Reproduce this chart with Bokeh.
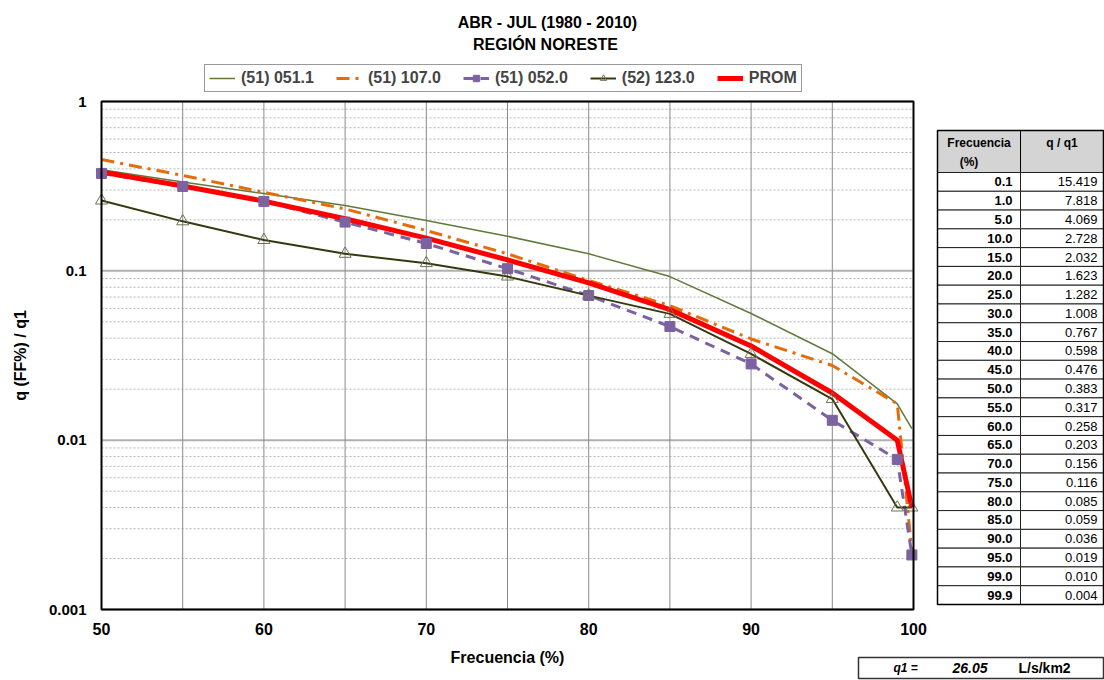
import numpy as np
from bokeh.plotting import figure
from bokeh.models import Range1d, Legend, LegendItem, ColumnDataSource, LinearScale
from bokeh.embed import file_html
from bokeh.resources import INLINE
from bokeh.core.properties import value

FONT = "Liberation Sans"

# ---------------- data ----------------
freq = [50, 55, 60, 65, 70, 75, 80, 85, 90, 95, 99, 99.9]
s_0511 = [0.395, 0.335, 0.286, 0.243, 0.198, 0.160, 0.126, 0.0925, 0.056, 0.0324, 0.0164, 0.0117]
s_1070 = [0.454, 0.366, 0.291, 0.232, 0.173, 0.126, 0.0877, 0.0623, 0.0396, 0.0276, 0.0164, 0.0022]
s_0520 = [0.376, 0.315, 0.257, 0.194, 0.145, 0.103, 0.0715, 0.0469, 0.0282, 0.0131, 0.0077, 0.0021]
s_1230 = [0.260, 0.196, 0.152, 0.126, 0.111, 0.0925, 0.0714, 0.0557, 0.0323, 0.0175, 0.0040, 0.0040]
prom = [0.383, 0.317, 0.258, 0.203, 0.156, 0.116, 0.085, 0.059, 0.036, 0.019, 0.010, 0.004]

series_labels = ["(51) 051.1", "(51) 107.0", "(51) 052.0", "(52) 123.0", "PROM"]
title_lines = ["ABR - JUL (1980 - 2010)", "REGIÓN NORESTE"]
x_title = "Frecuencia (%)"
y_title = "q (FF%) / q1"

table_header = ["Frecuencia", "(%)", "q / q1"]
table_freq = [0.1, 1.0, 5.0, 10.0, 15.0, 20.0, 25.0, 30.0, 35.0, 40.0, 45.0, 50.0,
              55.0, 60.0, 65.0, 70.0, 75.0, 80.0, 85.0, 90.0, 95.0, 99.0, 99.9]
table_q = [15.419, 7.818, 4.069, 2.728, 2.032, 1.623, 1.282, 1.008, 0.767, 0.598, 0.476,
           0.383, 0.317, 0.258, 0.203, 0.156, 0.116, 0.085, 0.059, 0.036, 0.019, 0.010, 0.004]
q1_label = "q1 ="
q1_value = 26.05
q1_units = "L/s/km2"

y_ticks = [0.001, 0.01, 0.1, 1]
y_tick_labels = ["0.001", "0.01", "0.1", "1"]
y_minor = [k * 10.0 ** e for e in (-3, -2, -1) for k in range(2, 10)]
x_ticks = [50, 60, 70, 80, 90, 100]
x_tick_labels = ["50", "60", "70", "80", "90", "100"]
x_grid = [50, 55, 60, 65, 70, 75, 80, 85, 90, 95, 100]

# ---------------- geometry (pixels inside the canvas) ----------------
W, H = 1104, 680
C_LEFT, C_RIGHT = 101, 913     # x of 50 and 100
C_TOP, C_BOT = 101, 609        # y of 1 and 0.001
ppx = (C_RIGHT - C_LEFT) / (x_ticks[-1] - x_ticks[0])
ppd = (C_BOT - C_TOP) / np.log10(y_ticks[-1] / y_ticks[0])
x_start = x_ticks[0] - C_LEFT / ppx
x_end = x_ticks[-1] + (W - C_RIGHT) / ppx
y_end = y_ticks[-1] * 10 ** (C_TOP / ppd)
y_start = y_ticks[0] / 10 ** ((H - C_BOT) / ppd)

p = figure(width=W, height=H, x_range=Range1d(x_start, x_end), y_range=Range1d(y_start, y_end),
           y_axis_type="log", x_axis_location=None, y_axis_location=None,
           output_backend="svg", toolbar_location=None, min_border=0)
p.title.visible = False
p.extra_x_ranges = {"px": Range1d(0, W)}
p.extra_y_ranges = {"py": Range1d(H, 0)}
p.extra_x_scales = {"px": LinearScale()}
p.extra_y_scales = {"py": LinearScale()}
p.grid.visible = False
p.background_fill_color = "white"
p.border_fill_color = "white"
p.outline_line_color = None

x0, x1 = x_ticks[0], x_ticks[-1]
y0, y1 = y_ticks[0], y_ticks[-1]

# ---------------- grid ----------------
p.segment(x0=[x0] * len(y_minor), x1=[x1] * len(y_minor), y0=y_minor, y1=y_minor,
          line_color="#b4b4b4", line_width=1, line_dash="2 2")
p.segment(x0=[x0] * len(y_ticks), x1=[x1] * len(y_ticks), y0=y_ticks, y1=y_ticks,
          line_color="#b0b0b0", line_width=2)
p.segment(x0=x_grid, x1=x_grid, y0=[y0] * len(x_grid), y1=[y1] * len(x_grid),
          line_color="#8a8a8a", line_width=1)

# ---------------- series ----------------
src = ColumnDataSource(dict(x=freq, a=s_0511, b=s_1070, c=s_0520, d=s_1230, e=prom))
r1 = p.line("x", "a", source=src, line_color="#5f7b3a", line_width=1.5)
r2 = p.line("x", "b", source=src, line_color="#e46c0a", line_width=3, line_dash="13 6 3 6")
r3l = p.line("x", "c", source=src, line_color="#7c62a1", line_width=3, line_dash="10 7")
r4l = p.line("x", "d", source=src, line_color="#38380f", line_width=2)
r5 = p.line("x", "e", source=src, line_color="#ff0000", line_width=5)
r3m = p.scatter("x", "c", source=src, marker="square", size=10,
                fill_color="#7c62a1", line_color="#7c62a1")
r4m = p.scatter("x", "d", source=src, marker="triangle", size=12,
                fill_color=None, line_color="#707055", line_width=1)

# chart border
p.quad(left=[x0], right=[x1], bottom=[y0], top=[y1],
       fill_color=None, line_color="black", line_width=2)

# ---------------- axes texts ----------------
p.text(x=x_ticks, y=[628] * len(x_ticks), y_range_name="py", text=x_tick_labels,
       text_align="center", text_baseline="middle", text_font=value(FONT),
       text_font_size="16px", text_font_style="bold", text_color="black")
p.text(x=[86] * len(y_ticks), y=y_ticks, x_range_name="px", text=y_tick_labels,
       text_align="right", text_baseline="middle", text_font=value(FONT),
       text_font_size="15px", text_font_style="bold", text_color="black")
p.text(x=[(x0 + x1) / 2], y=[657], y_range_name="py", text=[x_title],
       text_align="center", text_baseline="middle", text_font=value(FONT),
       text_font_size="16px", text_font_style="bold", text_color="black")
p.text(x=[20], y=[np.sqrt(y0 * y1)], x_range_name="px", text=[y_title], angle=np.pi / 2,
       text_align="center", text_baseline="middle", text_font=value(FONT),
       text_font_size="16px", text_font_style="bold", text_color="black")

# ---------------- titles ----------------
p.text(x=[547, 545], y=[22, 44], x_range_name="px", y_range_name="py", text=title_lines,
       text_align="center", text_baseline="middle", text_font=value(FONT),
       text_font_size="16px", text_font_style="bold", text_color="black")

# ---------------- legend ----------------
legend = Legend(items=[
    LegendItem(label=series_labels[0], renderers=[r1]),
    LegendItem(label=series_labels[1], renderers=[r2]),
    LegendItem(label=series_labels[2], renderers=[r3l, r3m]),
    LegendItem(label=series_labels[3], renderers=[r4l, r4m]),
    LegendItem(label=series_labels[4], renderers=[r5]),
], orientation="horizontal", location=(204, H - 92),
    border_line_color="#333333", border_line_width=1.5, background_fill_color="white",
    background_fill_alpha=1.0,
    label_text_font=FONT, label_text_font_size="16px", label_text_font_style="bold",
    glyph_width=26, glyph_height=16, label_height=16, label_standoff=6,
    spacing=22, padding=4, margin=0)
p.add_layout(legend)

# ---------------- table ----------------
kw = dict(x_range_name="px", y_range_name="py")
tab_left, tab_mid, tab_right = 937, 1020, 1103
head_top, head_bot, tab_bot = 130, 172, 604
n = len(table_freq)
row_h = (tab_bot - head_bot) / n
tops = head_bot + np.arange(n) * row_h
centers = tops + row_h / 2

p.quad(left=[tab_left, tab_mid], right=[tab_mid, tab_right], top=[head_top] * 2,
       bottom=[head_bot] * 2, fill_color="#d4d4d4", line_color="black", line_width=1, **kw)
p.quad(left=np.full(n, tab_left), right=np.full(n, tab_mid), top=tops, bottom=tops + row_h,
       fill_color="white", line_color="#222222", line_width=1, **kw)
p.quad(left=np.full(n, tab_mid), right=np.full(n, tab_right), top=tops, bottom=tops + row_h,
       fill_color="white", line_color="#222222", line_width=1, **kw)
p.quad(left=[tab_left], right=[tab_right], top=[head_top], bottom=[tab_bot],
       fill_color=None, line_color="black", line_width=1.5, **kw)

p.text(x=[(tab_left + tab_mid) / 2, (tab_left + tab_mid) / 2 - 10, (tab_mid + tab_right) / 2],
       y=[head_top + 12, head_top + 31, head_top + 12], text=table_header,
       text_align="center", text_baseline="middle", text_font=value(FONT),
       text_font_size="12px", text_font_style="bold", text_color="black", **kw)
p.text(x=np.full(n, tab_mid - 8), y=centers, text=[f"{v:.1f}" for v in table_freq],
       text_align="right", text_baseline="middle", text_font=value(FONT),
       text_font_size="13px", text_font_style="bold", text_color="black", **kw)
p.text(x=np.full(n, tab_right - 6), y=centers, text=[f"{v:.3f}" for v in table_q],
       text_align="right", text_baseline="middle", text_font=value(FONT),
       text_font_size="13px", text_font_style="normal", text_color="black", **kw)

# ---------------- q1 box ----------------
box_top, box_bot = 657, 678
bc = (box_top + box_bot) / 2
p.quad(left=[858], right=[tab_right], top=[box_top], bottom=[box_bot],
       fill_color="white", line_color="#333333", line_width=1.5, **kw)
p.text(x=[893], y=[bc], text=[q1_label], text_align="left", text_baseline="middle",
       text_font=value(FONT), text_font_size="12px", text_font_style="bold italic", **kw)
p.text(x=[952], y=[bc], text=[f"{q1_value:.2f}"], text_align="left", text_baseline="middle",
       text_font=value(FONT), text_font_size="14px", text_font_style="bold italic", **kw)
p.text(x=[1018], y=[bc], text=[q1_units], text_align="left", text_baseline="middle",
       text_font=value(FONT), text_font_size="14px", text_font_style="bold", **kw)

open("out.html", "w").write(file_html(p, INLINE))
